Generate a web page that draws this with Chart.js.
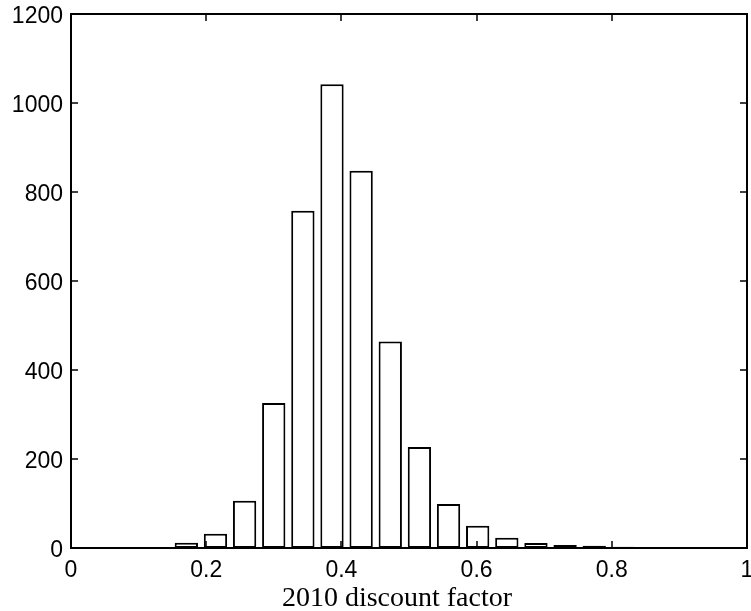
<!DOCTYPE html>
<html>
<head>
<meta charset="utf-8">
<script src="https://cdn.jsdelivr.net/npm/chart.js@4"></script>
<style>
  html, body { margin: 0; padding: 0; background: #fff; }
  #wrap { width: 751px; height: 611px; }
</style>
</head>
<body>
<div id="wrap"><canvas id="grafico" width="751" height="611"></canvas></div>
<script>
// histogram bin centres and counts
const binCenters = [0.1706, 0.2137, 0.2568, 0.2999, 0.3430, 0.3861, 0.4292, 0.4723,
                    0.5154, 0.5585, 0.6016, 0.6447, 0.6878, 0.7309, 0.7740, 0.8171];
const counts = [12, 32, 106, 326, 758, 1042, 848, 464, 227, 99, 50, 23, 11, 7, 5, 3];
const xTicks = [0, 0.2, 0.4, 0.6, 0.8, 1];
const yTicks = [0, 200, 400, 600, 800, 1000, 1200];
const xTitle = "2010 discount factor";

const pontos = binCenters.map((c, i) => ({ x: c, y: counts[i] }));

// box round the plot, MATLAB-style inward ticks, and the x label
const moldura = {
  id: "moldura",
  afterDraw(chart) {
    const { ctx, chartArea: a, scales } = chart;
    const len = 7;
    ctx.save();
    ctx.strokeStyle = "#000";
    ctx.lineWidth = 2;
    ctx.beginPath();
    ctx.moveTo(a.left, a.top);
    ctx.lineTo(a.right, a.top);
    ctx.lineTo(a.right, a.bottom);
    ctx.stroke();
    ctx.lineWidth = 1.5;
    ctx.beginPath();
    xTicks.forEach(v => {
      const px = Math.round(scales.x.getPixelForValue(v));
      ctx.moveTo(px, a.bottom);
      ctx.lineTo(px, a.bottom - len);
      ctx.moveTo(px, a.top);
      ctx.lineTo(px, a.top + len);
    });
    yTicks.forEach(v => {
      const py = Math.round(scales.y.getPixelForValue(v));
      ctx.moveTo(a.left, py);
      ctx.lineTo(a.left + len, py);
      ctx.moveTo(a.right, py);
      ctx.lineTo(a.right - len, py);
    });
    ctx.stroke();

    // xlabel sits a bit left of the axis centre in the original
    ctx.fillStyle = "#000";
    ctx.font = "28px 'Liberation Serif', 'Times New Roman', serif";
    ctx.textAlign = "center";
    ctx.textBaseline = "alphabetic";
    ctx.fillText(xTitle, (a.left + a.right) / 2 - 12, a.bottom + 58);
    ctx.restore();
  }
};

const fonteEixo = { family: "'Liberation Sans', Arial, sans-serif", size: 23 };

new Chart(document.getElementById("grafico"), {
  type: "bar",
  data: {
    datasets: [{
      data: pontos,
      backgroundColor: "#fff",
      borderColor: "#000",
      borderWidth: 2,
      borderSkipped: false,
      barPercentage: 0.8,
      categoryPercentage: 1
    }]
  },
  options: {
    responsive: false,
    animation: false,
    layout: { padding: { left: 0, right: 4, top: 14, bottom: 0 } },
    plugins: { legend: { display: false }, tooltip: { enabled: false } },
    scales: {
      x: {
        type: "linear",
        min: 0,
        max: 1,
        offset: false,
        afterBuildTicks: s => { s.ticks = xTicks.map(v => ({ value: v })); },
        afterFit: s => { s.height = 63; s.paddingLeft = 0; s.paddingRight = 0; },
        grid: { display: false, drawTicks: false },
        border: { display: true, color: "#000", width: 2 },
        ticks: { color: "#000", font: fonteEixo, padding: 9, maxRotation: 0, autoSkip: false,
                 callback: v => String(v) }
      },
      y: {
        min: 0,
        max: 1200,
        afterBuildTicks: s => { s.ticks = yTicks.map(v => ({ value: v })); },
        afterFit: s => { s.width = 71; s.paddingTop = 0; s.paddingBottom = 0; },
        grid: { display: false, drawTicks: false },
        border: { display: true, color: "#000", width: 2 },
        ticks: { color: "#000", font: fonteEixo, padding: 8, labelOffset: 3, autoSkip: false,
                 callback: v => String(v) }
      }
    }
  },
  plugins: [moldura]
});
</script>
</body>
</html>
